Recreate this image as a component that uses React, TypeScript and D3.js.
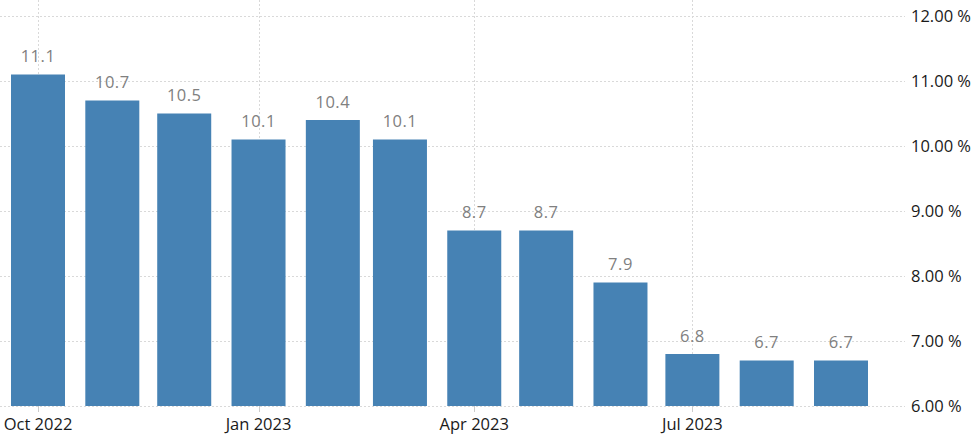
import React from "react";
import * as d3 from "d3";

const months = ["2022-10-01","2022-11-01","2022-12-01","2023-01-01","2023-02-01","2023-03-01","2023-04-01","2023-05-01","2023-06-01","2023-07-01","2023-08-01","2023-09-01"];
const values = [11.1, 10.7, 10.5, 10.1, 10.4, 10.1, 8.7, 8.7, 7.9, 6.8, 6.7, 6.7];
const yTicks = [6, 7, 8, 9, 10, 11, 12];
const xTickDates = ["2022-10-01", "2023-01-01", "2023-04-01", "2023-07-01"];

const W = 978, H = 439;
const parse = d3.utcParse("%Y-%m-%d");
const fmtX = d3.utcFormat("%b %Y");

export default function App() {
  const dates = months.map((m) => parse(m) as Date);
  const x = d3.scaleUtc().domain([dates[0], dates[dates.length - 1]]).range([38, 841]);
  const y = d3.scaleLinear().domain([6, 12]).range([406, 16]);
  const bw = 54;
  const font = "'Open Sans', 'DejaVu Sans', sans-serif";
  return (
    <div style={{ position: "fixed", left: 0, top: 0 }}>
      <svg width={W} height={H} style={{ display: "block", background: "#fff" }}>
        {yTicks.map((t) => (
          <line key={"h" + t} x1={0} x2={905} y1={y(t) + 0.5} y2={y(t) + 0.5} stroke="#d9d9d9" strokeDasharray="2,2" />
        ))}
        {xTickDates.map((d) => {
          const xx = Math.round(x(parse(d) as Date)) + 0.5;
          return <line key={"v" + d} x1={xx} x2={xx} y1={0} y2={412} stroke="#d9d9d9" strokeDasharray="2,2" />;
        })}
        {xTickDates.map((d) => {
          const xx = Math.round(x(parse(d) as Date)) + 0.5;
          return <line key={"t" + d} x1={xx} x2={xx} y1={406} y2={412} stroke="#ccc" />;
        })}
        {values.map((v, i) => (
          <rect key={"b" + i} x={x(dates[i]) - bw / 2} y={y(v)} width={bw} height={y(6) - y(v)} fill="#4682b4" />
        ))}
        {values.map((v, i) => (
          <text key={"l" + i} x={x(dates[i])} y={y(v) - 12.5} textAnchor="middle" fontFamily={font} fontSize={16.5} letterSpacing={0.5} fill="#808080">
            {v.toFixed(1)}
          </text>
        ))}
        {yTicks.map((t) => (
          <text key={"y" + t} x={911} y={y(t)} dy="0.36em" fontFamily={font} fontSize={16.5} fill="#1a1a1a">
            {t.toFixed(2) + " %"}
          </text>
        ))}
        {xTickDates.map((d) => (
          <text key={"x" + d} x={x(parse(d) as Date)} y={430} textAnchor="middle" fontFamily={font} fontSize={16.5} fill="#1a1a1a">
            {fmtX(parse(d) as Date)}
          </text>
        ))}
      </svg>
    </div>
  );
}
